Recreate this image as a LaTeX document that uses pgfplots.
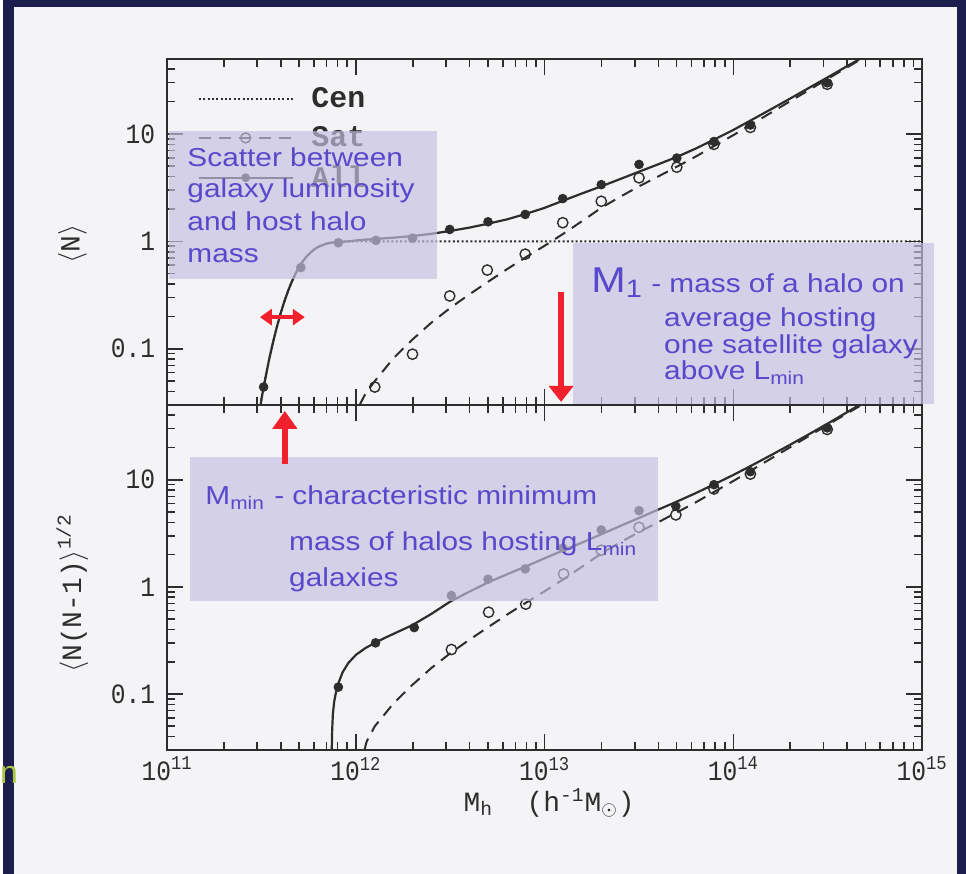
\documentclass[border=0pt]{standalone}
\usepackage{fontspec}
\setmainfont{Liberation Serif}
\setmonofont{Liberation Mono}
\newfontfamily\annfont[FakeStretch=1.15]{Liberation Sans}
\newfontfamily\tickfont[FakeStretch=0.88]{Liberation Mono}
\newfontfamily\sansfont{Liberation Sans}
\usepackage{pgfplots}
\pgfplotsset{compat=1.18}
\usetikzlibrary{arrows.meta}
\definecolor{navy}{RGB}{28,30,78}
\definecolor{paper}{RGB}{244,244,246}
\definecolor{ann}{RGB}{88,72,204}
\definecolor{boxc}{RGB}{196,192,224}
\definecolor{arr}{RGB}{240,32,44}
\definecolor{ink}{RGB}{45,45,45}
\definecolor{nteal}{RGB}{170,200,70}
\pgfplotsset{hod/.style={
  scale only axis, width=378.5pt,
  xmin=1e11, xmax=1e15, ymin=0.03, ymax=50,
  xtick={1e11,1e12,1e13,1e14,1e15},
  minor xtick={2e11,3e11,4e11,5e11,6e11,7e11,8e11,9e11,2e12,3e12,4e12,5e12,6e12,7e12,8e12,9e12,2e13,3e13,4e13,5e13,6e13,7e13,8e13,9e13,2e14,3e14,4e14,5e14,6e14,7e14,8e14,9e14},
  ytick={0.1,1,10}, yticklabels={0.1,1,10},
  minor ytick={0.04,0.05,0.06,0.07,0.08,0.09,0.2,0.3,0.4,0.5,0.6,0.7,0.8,0.9,2,3,4,5,6,7,8,9,20,30,40,50},
  axis line style={ink, line width=1pt},
  every tick/.style={ink, line width=0.8pt},
  major tick length=8pt, minor tick length=4pt,
  tick label style={font=\tickfont\fontsize{14}{14}\selectfont, text=ink},
  yticklabel style={xshift=-2.5pt},
  label style={font=\ttfamily\fontsize{14}{14}\selectfont, text=ink},
}}
\begin{document}
\begin{tikzpicture}
\begin{scope}[x=0.5pt,y=-0.5pt]
\fill[navy] (0,0) rectangle (966,876);
\fill[paper] (11,7) rectangle (957,876);
\useasboundingbox (0,0) rectangle (966,876);
\end{scope}

% ---------------- top panel ----------------
\begin{axis}[xmode=log, ymode=log, hod, at={(82.5pt,-29.5pt)}, anchor=north west, height=173.5pt,
  xticklabels={},
  ylabel={$\langle$N$\rangle$},
  ylabel style={at={(axis description cs:-0.1255,0.464)}, anchor=center},
  legend style={draw=none, fill=none, at={(axis description cs:0.04,0.93)}, anchor=north west,
    font=\ttfamily\bfseries\fontsize{15}{15}\selectfont, text=ink, row sep=4pt, inner sep=0pt,
    /tikz/every odd column/.append style={column sep=7pt}},
  legend cell align=left]
\addlegendimage{legend image code/.code={\draw[ink, line width=1pt, dash pattern=on 1pt off 1.2pt] (0pt,0pt) -- (47pt,0pt);}}
\addlegendentry{Cen}
\addlegendimage{legend image code/.code={\draw[ink, line width=1pt, dash pattern=on 6pt off 4pt] (0pt,0pt) -- (47pt,0pt); \draw[ink, line width=0.7pt] (23.5pt,0pt) circle (2.5pt);}}
\addlegendentry{Sat}
\addlegendimage{legend image code/.code={\draw[ink, line width=1pt] (0pt,0pt) -- (47pt,0pt); \fill[ink] (23.5pt,0pt) circle (2pt);}}
\addlegendentry{All}
% Cen
\addplot[forget plot, ink, line width=1pt, dash pattern=on 1pt off 1.2pt] coordinates {
(3.13e11,0.030) (3.162e11,0.0345) (3.311e11,0.053) (3.467e11,0.079) (3.631e11,0.113) (3.802e11,0.157) (3.981e11,0.210) (4.169e11,0.273) (4.365e11,0.343) (4.571e11,0.42) (4.786e11,0.50) (5.012e11,0.58) (5.248e11,0.657) (5.495e11,0.727) (5.754e11,0.787) (6.026e11,0.843) (6.310e11,0.887) (6.918e11,0.947) (7.586e11,0.978) (8.318e11,0.992) (9.120e11,0.998) (1e12,1.0) (1e15,1.0)};
% Sat
\addplot[forget plot, ink, line width=1pt, dash pattern=on 6pt off 4pt] coordinates {
(1.047e12,0.030) (1.122e12,0.038) (1.259e12,0.050) (1.585e12,0.082) (1.995e12,0.122) (2.512e12,0.175) (3.162e12,0.24) (3.981e12,0.32) (5.012e12,0.42) (6.310e12,0.55) (7.943e12,0.71) (1e13,0.91) (1.259e13,1.18) (1.585e13,1.55) (1.995e13,2.05) (2.512e13,2.6) (3.162e13,3.25) (3.981e13,4.0) (5.012e13,4.95) (6.310e13,6.15) (7.943e13,7.75) (1e14,9.75) (1.259e14,12.4) (1.585e14,15.8) (1.995e14,20.1) (2.512e14,25.6) (3.162e14,32.6) (3.981e14,41.4) (5.012e14,52.5)};
% All
\addplot[forget plot, ink, line width=1.1pt] coordinates {
(3.13e11,0.030) (3.162e11,0.0345) (3.311e11,0.053) (3.467e11,0.079) (3.631e11,0.113) (3.802e11,0.157) (3.981e11,0.210) (4.169e11,0.273) (4.365e11,0.343) (4.571e11,0.42) (4.786e11,0.50) (5.012e11,0.58) (5.248e11,0.657) (5.495e11,0.727) (5.754e11,0.787) (6.026e11,0.843) (6.310e11,0.887) (6.918e11,0.947) (7.586e11,0.978) (8.318e11,0.992) (9.120e11,0.998)
(1e12,1.02) (1.122e12,1.038) (1.259e12,1.05) (1.585e12,1.082) (1.995e12,1.12) (2.512e12,1.175) (3.162e12,1.25) (3.981e12,1.34) (5.012e12,1.46) (6.310e12,1.6) (7.943e12,1.8) (1e13,2.05) (1.259e13,2.4) (1.585e13,2.8) (1.995e13,3.25) (2.512e13,3.8) (3.162e13,4.45) (3.981e13,5.2) (5.012e13,6.1) (6.310e13,7.3) (7.943e13,8.9) (1e14,10.9) (1.259e14,13.6) (1.585e14,17.0) (1.995e14,21.3) (2.512e14,26.8) (3.162e14,33.7) (3.981e14,42.5) (5.012e14,53.5)};
% All points
\addplot[forget plot, only marks, mark=*, mark size=2.2pt, ink] coordinates {
(3.243e11,0.044) (5.105e11,0.57) (8.072e11,0.97) (1.276e12,1.02) (1.995e12,1.07) (3.141e12,1.29) (5.012e12,1.52) (7.889e12,1.78) (1.247e13,2.50) (1.995e13,3.37) (3.162e13,5.2) (5.012e13,5.96) (7.889e13,8.5) (1.230e14,12.1) (3.141e14,29.9)};
% Sat points
\addplot[forget plot, only marks, mark=o, mark size=2.6pt, ink, mark options={line width=0.7pt}] coordinates {
(1.259e12,0.044) (1.995e12,0.089) (3.141e12,0.31) (4.966e12,0.54) (7.889e12,0.76) (1.247e13,1.49) (1.995e13,2.36) (3.162e13,3.9) (5.012e13,4.9) (7.889e13,8.0) (1.230e14,11.5) (3.141e14,29.0)};
\end{axis}

% ---------------- bottom panel ----------------
\begin{axis}[xmode=log, ymode=log, hod, at={(82.5pt,-203pt)}, anchor=north west, height=173pt,
  xticklabels={10\textsuperscript{11},10\textsuperscript{12},10\textsuperscript{13},10\textsuperscript{14},10\textsuperscript{15}},
  ylabel={$\langle$N(N-1)$\rangle$\textsuperscript{1/2}},
  ylabel style={at={(axis description cs:-0.1255,0.454)}, anchor=center},
  xlabel={M\textsubscript{h}\ \ (h\textsuperscript{-1}M\textsubscript{$\odot$})},
  xlabel style={at={(axis description cs:0.506,-0.153)}, anchor=center}]
% Sat
\addplot[ink, line width=1pt, dash pattern=on 6pt off 4pt] coordinates {
(1.11e12,0.030) (1.14e12,0.036) (1.259e12,0.050) (1.585e12,0.082) (1.995e12,0.122) (2.512e12,0.175) (3.162e12,0.24) (3.981e12,0.32) (5.012e12,0.42) (6.310e12,0.55) (7.943e12,0.71) (1e13,0.91) (1.259e13,1.18) (1.585e13,1.55) (1.995e13,2.05) (2.512e13,2.6) (3.162e13,3.25) (3.981e13,4.0) (5.012e13,4.95) (6.310e13,6.15) (7.943e13,7.75) (1e14,9.75) (1.259e14,12.4) (1.585e14,15.8) (1.995e14,20.1) (2.512e14,25.6) (3.162e14,32.6) (3.981e14,41.4) (5.012e14,52.5)};
% All
\addplot[ink, line width=1.1pt] coordinates {
(7.447e11,0.030) (7.482e11,0.045) (7.551e11,0.065) (7.674e11,0.085) (7.852e11,0.105) (8.128e11,0.13) (8.511e11,0.16) (9.120e11,0.195) (1e12,0.232) (1.122e12,0.268) (1.259e12,0.30) (1.413e12,0.332) (1.585e12,0.365) (1.995e12,0.44) (2.512e12,0.56) (3.162e12,0.73) (3.981e12,0.90) (5.012e12,1.10) (6.310e12,1.31) (7.943e12,1.55) (1e13,1.85) (1.259e13,2.2) (1.585e13,2.6) (1.995e13,3.1) (2.512e13,3.7) (3.162e13,4.4) (3.981e13,5.25) (5.012e13,6.25) (6.310e13,7.5) (7.943e13,9.1) (1e14,11.1) (1.259e14,13.7) (1.585e14,17.0) (1.995e14,21.2) (2.512e14,26.6) (3.162e14,33.5) (3.981e14,42.5) (5.012e14,54)};
% All points
\addplot[only marks, mark=*, mark size=2.2pt, ink] coordinates {
(8.072e11,0.116) (1.271e12,0.30) (2.037e12,0.417) (3.206e12,0.83) (5.012e12,1.18) (7.889e12,1.47) (1.247e13,2.3) (1.995e13,3.4) (3.162e13,5.15) (4.955e13,5.66) (7.889e13,9.0) (1.230e14,11.9) (3.141e14,30.5)};
% Sat points
\addplot[only marks, mark=o, mark size=2.6pt, ink, mark options={line width=0.7pt}] coordinates {
(3.206e12,0.26) (5.047e12,0.58) (7.943e12,0.69) (1.26e13,1.32) (1.995e13,2.2) (3.162e13,3.6) (4.955e13,4.7) (7.889e13,8.2) (1.230e14,11.3) (3.141e14,29.5)};
\end{axis}

% ---------------- annotations ----------------
\begin{scope}[x=0.5pt,y=-0.5pt]
\fill[boxc, fill opacity=0.68] (167,131) rectangle (436,280);
\fill[boxc, fill opacity=0.68] (572,244) rectangle (934,405);
\fill[boxc, fill opacity=0.68] (188,458) rectangle (657,603);
\begin{scope}[every node/.style={inner sep=0pt, anchor=base west, text=ann, font=\annfont\fontsize{13}{13}\selectfont}]
\node at (185,167) {Scatter between};
\node at (185,198) {galaxy luminosity};
\node at (185,231) {and host halo};
\node at (185,263) {mass};
\node[font=\annfont\fontsize{18}{18}\selectfont] at (590,293) {M\textsubscript{1}};
\node at (650,293) {- mass of a halo on};
\node at (663,327) {average hosting};
\node at (663,354) {one satellite galaxy};
\node at (663,381) {above L\textsubscript{min}};
\node at (203,506) {M\textsubscript{min}};
\node at (272,506) {- characteristic minimum};
\node at (287,552) {mass of halos hosting L\textsubscript{min}};
\node at (287,588) {galaxies};
\end{scope}
\draw[arr, line width=2pt, {Triangle[width=8pt,length=6pt]}-{Triangle[width=8pt,length=6pt]}] (258,318) -- (303,318);
\draw[arr, line width=3pt, -{Triangle[width=12pt,length=8pt]}] (560,293) -- (560,403);
\draw[arr, line width=3pt, -{Triangle[width=12pt,length=9pt]}] (283,465) -- (283,412);
\node[anchor=base west, inner sep=0pt, text=nteal, font=\sansfont\fontsize{16}{16}\selectfont] at (-3,786) {n};
\end{scope}
\end{tikzpicture}
\end{document}
